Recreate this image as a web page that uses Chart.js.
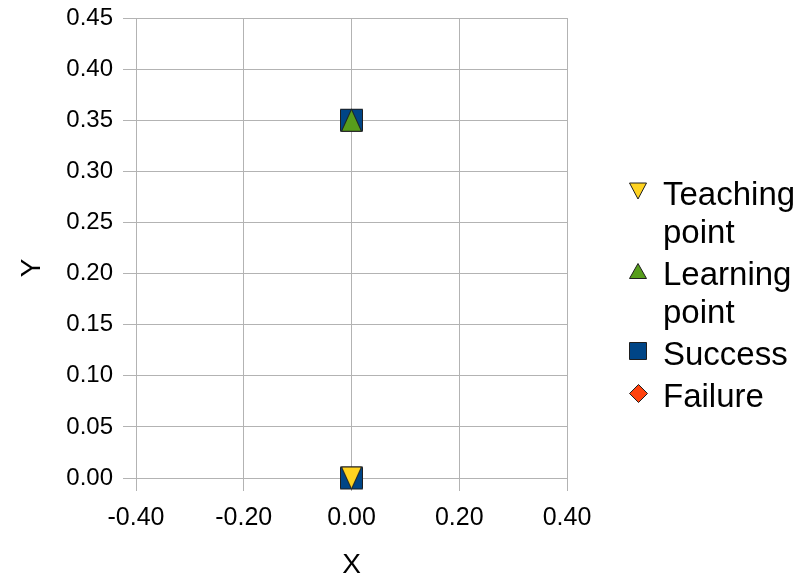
<!DOCTYPE html>
<html>
<head>
<meta charset="utf-8">
<script src="https://cdn.jsdelivr.net/npm/chart.js@4/dist/chart.umd.min.js"></script>
<style>
  html, body { margin: 0; padding: 0; background: #ffffff; }
  canvas { display: block; }
</style>
</head>
<body>
<canvas id="chart" width="808" height="579"></canvas>
<script>
// Series (x, y pairs)
const teachingX = [0];
const teachingY = [0];
const learningX = [0];
const learningY = [0.35];
const successX = [0, 0];
const successY = [0.35, 0];
const failureX = [];
const failureY = [];

const seriesNames = ['Teaching point', 'Learning point', 'Success', 'Failure'];
const xTitle = 'X';
const yTitle = 'Y';

const FONT = '"Liberation Sans", Arial, sans-serif';
const GRID = '#b3b3b3';

// Build a small marker bitmap (triangles, square, diamond) with a thin dark outline
function marker(shape, w, h, fill) {
  const size = Math.max(w, h) + 3;
  const c = document.createElement('canvas');
  c.width = size; c.height = size;
  const g = c.getContext('2d');
  const x0 = (size - w) / 2, y0 = (size - h) / 2, x1 = x0 + w, y1 = y0 + h;
  const cx = size / 2, cy = size / 2;
  g.beginPath();
  if (shape === 'down') {
    g.moveTo(x0, y0); g.lineTo(x1, y0); g.lineTo(cx, y1); g.closePath();
  } else if (shape === 'up') {
    g.moveTo(cx, y0); g.lineTo(x1, y1); g.lineTo(x0, y1); g.closePath();
  } else if (shape === 'diamond') {
    g.moveTo(cx, y0); g.lineTo(x1, cy); g.lineTo(cx, y1); g.lineTo(x0, cy); g.closePath();
  } else {
    g.rect(x0, y0, w, h);
  }
  g.fillStyle = fill;
  g.fill();
  g.strokeStyle = '#1e1e1e';
  g.lineWidth = 1;
  g.stroke();
  return c;
}

const colors = ['#ffd320', '#579d1c', '#004586', '#ff420e'];
const plotMarkers = [
  marker('down', 20, 22, colors[0]),
  marker('up', 20, 22, colors[1]),
  marker('rect', 22, 22, colors[2]),
  marker('diamond', 22, 22, colors[3])
];
const legendMarkers = [
  marker('down', 17, 16, colors[0]),
  marker('up', 17, 15, colors[1]),
  marker('rect', 17, 17, colors[2]),
  marker('diamond', 18, 18, colors[3])
];

function pairs(xs, ys) { return xs.map((x, i) => ({ x: x, y: ys[i] })); }

const datasets = [
  pairs(teachingX, teachingY),
  pairs(learningX, learningY),
  pairs(successX, successY),
  pairs(failureX, failureY)
].map((d, i) => ({
  label: seriesNames[i],
  data: d,
  pointStyle: plotMarkers[i],
  pointRadius: 12,
  pointHoverRadius: 12,
  backgroundColor: colors[i],
  borderColor: '#1e1e1e',
  showLine: false,
  clip: false
}));

// Axis titles and a wrapped legend at the right-hand side
const decorations = {
  id: 'decorations',
  afterDraw(chart) {
    const ctx = chart.ctx;
    const area = chart.chartArea;
    ctx.save();
    ctx.fillStyle = '#000000';
    ctx.font = '28px ' + FONT;
    ctx.textAlign = 'center';
    ctx.textBaseline = 'middle';
    ctx.fillText(xTitle, (area.left + area.right) / 2, 565);
    ctx.translate(32, 268);
    ctx.rotate(-Math.PI / 2);
    ctx.fillText(yTitle, 0, 0);
    ctx.restore();

    ctx.save();
    ctx.font = '33px ' + FONT;
    ctx.fillStyle = '#000000';
    ctx.textAlign = 'left';
    ctx.textBaseline = 'alphabetic';
    const textX = 663;
    const maxW = chart.width - textX - 2;
    const lineH = 38;
    const itemGap = 42;
    let baseline = 205;
    chart.data.datasets.forEach((ds, i) => {
      const words = ds.label.split(' ');
      const lines = [];
      let cur = '';
      words.forEach(w => {
        const test = cur ? cur + ' ' + w : w;
        if (cur && ctx.measureText(test).width > maxW) { lines.push(cur); cur = w; }
        else cur = test;
      });
      if (cur) lines.push(cur);
      const m = legendMarkers[i];
      ctx.drawImage(m, Math.round(638 - m.width / 2), Math.round(baseline - 14 - m.height / 2));
      lines.forEach((ln, k) => {
        ctx.fillText(ln, textX, baseline + k * lineH);
      });
      baseline += (lines.length - 1) * lineH + itemGap;
    });
    ctx.restore();
  }
};

const tickFont = { family: FONT, size: 24 };

new Chart(document.getElementById('chart'), {
  type: 'scatter',
  data: { datasets: datasets },
  options: {
    responsive: false,
    devicePixelRatio: 1,
    animation: false,
    layout: { padding: { left: 0, top: 18, right: 241, bottom: 0 } },
    plugins: {
      legend: { display: false },
      tooltip: { enabled: false }
    },
    scales: {
      x: {
        type: 'linear',
        min: -0.4,
        max: 0.4,
        afterFit(scale) {
          scale.height = 101;
          scale.paddingLeft = 0;
          scale.paddingRight = 0;
        },
        grid: { color: GRID, lineWidth: 1, tickLength: 13, tickColor: GRID },
        border: { display: true, color: GRID },
        ticks: {
          stepSize: 0.2,
          padding: 12,
          color: '#000000',
          font: { family: FONT, size: 25 },
          maxRotation: 0,
          callback: v => Number(v).toFixed(2)
        }
      },
      y: {
        type: 'linear',
        min: 0,
        max: 0.45,
        afterFit(scale) {
          scale.width = 136;
          scale.paddingTop = 0;
          scale.paddingBottom = 0;
        },
        grid: { color: GRID, lineWidth: 1, tickLength: 13, tickColor: GRID },
        border: { display: true, color: GRID },
        ticks: {
          stepSize: 0.05,
          padding: 10,
          color: '#000000',
          font: tickFont,
          callback: v => Number(v).toFixed(2)
        }
      }
    }
  },
  plugins: [decorations]
});
</script>
</body>
</html>
